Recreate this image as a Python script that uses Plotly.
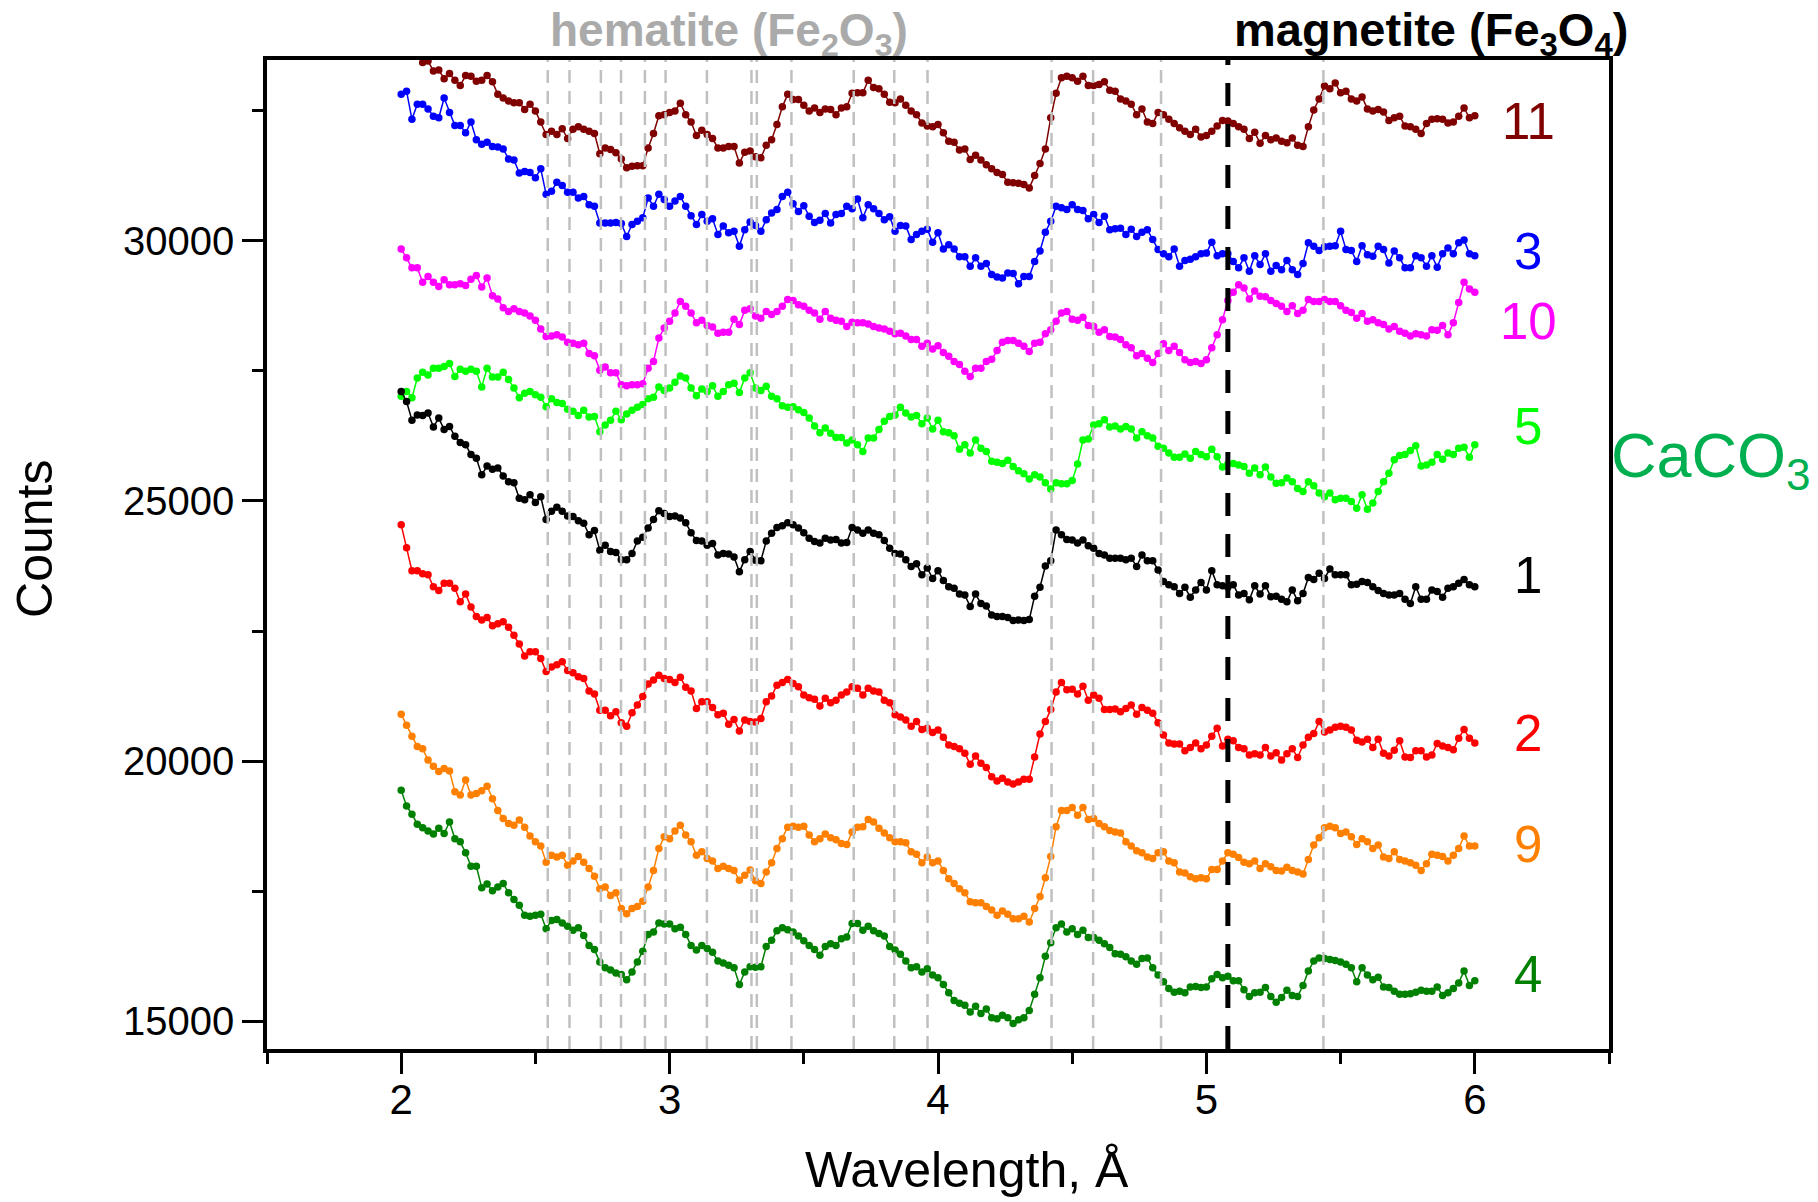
import plotly.graph_objects as go

# ---------------- data ----------------
wavelength = [round(2 + 0.02 * i, 2) for i in range(201)]

s11 = [33950, 33800, 33700, 33550, 33420, 33450, 33260, 33280, 33110, 33210,
       33080, 32980, 33170, 33160, 33060, 33080, 33170, 33050, 32810, 32740,
       32680, 32650, 32650, 32520, 32620, 32490, 32280, 32040, 32100, 32040,
       32150, 31960, 32140, 32190, 32140, 32100, 32060, 31670, 31780, 31750,
       31690, 31570, 31400, 31430, 31440, 31440, 31780, 32060, 32400, 32420,
       32460, 32490, 32640, 32420, 32280, 32020, 32120, 32040, 31960, 31780,
       31780, 31810, 31810, 31490, 31700, 31720, 31610, 31590, 31830, 31940,
       32230, 32570, 32810, 32710, 32710, 32600, 32490, 32550, 32460, 32530,
       32520, 32420, 32550, 32570, 32830, 32840, 32840, 33080, 32940, 32920,
       32810, 32660, 32650, 32720, 32600, 32490, 32420, 32260, 32200, 32190,
       32230, 32070, 31910, 31890, 31740, 31760, 31560, 31640, 31550, 31460,
       31380, 31310, 31270, 31120, 31110, 31100, 31080, 31010, 31250, 31480,
       31760, 32360, 32830, 33130, 33160, 33130, 33060, 33160, 32980, 32980,
       33000, 33050, 32890, 32870, 32720, 32680, 32620, 32420, 32530, 32280,
       32250, 32460, 32420, 32330, 32250, 32170, 32100, 32040, 32140, 31990,
       32020, 32100, 32200, 32310, 32300, 32250, 32190, 32140, 31960, 32080,
       31870, 32020, 31940, 31970, 31910, 31880, 31970, 31830, 31810, 32190,
       32510, 32720, 32970, 32920, 33030, 32840, 32870, 32720, 32680, 32760,
       32530, 32490, 32520, 32470, 32310, 32360, 32390, 32200, 32190, 32140,
       32060, 32250, 32330, 32340, 32330, 32260, 32280, 32390, 32550, 32360,
       32400]

s3 = [32810, 32870, 32330, 32620, 32620, 32530, 32390, 32360, 32740, 32460,
      32210, 32210, 32070, 32280, 31940, 31850, 31890, 31810, 31800, 31760,
      31570, 31550, 31300, 31330, 31310, 31210, 31380, 30890, 30950, 31120,
      31060, 30930, 30930, 30820, 30850, 30690, 30660, 30340, 30340, 30340,
      30350, 30330, 30080, 30310, 30370, 30440, 30820, 30660, 30890, 30790,
      30660, 30760, 30850, 30660, 30480, 30310, 30500, 30370, 30420, 30120,
      30280, 30150, 30180, 29890, 30210, 30360, 30290, 30180, 30400, 30530,
      30600, 30850, 30930, 30710, 30560, 30670, 30470, 30350, 30390, 30520,
      30340, 30500, 30520, 30660, 30610, 30800, 30440, 30690, 30610, 30520,
      30400, 30460, 30180, 30290, 30280, 30020, 30120, 30180, 30220, 29970,
      30150, 29840, 29920, 29840, 29690, 29690, 29510, 29670, 29510, 29560,
      29350, 29300, 29280, 29380, 29370, 29170, 29310, 29310, 29600, 29800,
      30160, 30370, 30660, 30630, 30600, 30690, 30600, 30580, 30420, 30500,
      30350, 30470, 30210, 30230, 30240, 30120, 30220, 30080, 30160, 30210,
      30020, 29830, 29750, 29690, 29840, 29510, 29620, 29640, 29690, 29750,
      29760, 29970, 29710, 29750, 29750, 29600, 29480, 29670, 29410, 29710,
      29540, 29750, 29410, 29520, 29440, 29620, 29440, 29350, 29560, 29960,
      29890, 29810, 29880, 29890, 29900, 30180, 29830, 29810, 29600, 29900,
      29730, 29700, 29890, 29830, 29570, 29800, 29670, 29480, 29480, 29710,
      29670, 29510, 29710, 29490, 29750, 29860, 29750, 29960, 30010, 29750,
      29710]

s10 = [29840, 29670, 29480, 29480, 29200, 29310, 29200, 29120, 29250, 29150,
       29150, 29170, 29140, 29260, 29330, 29110, 29280, 28940, 28880, 28710,
       28640, 28690, 28640, 28610, 28550, 28470, 28300, 28160, 28170, 28190,
       28150, 28050, 28030, 28000, 28030, 27830, 27790, 27510, 27570, 27460,
       27460, 27230, 27210, 27230, 27230, 27250, 27550, 27680, 28130, 28320,
       28450, 28610, 28830, 28740, 28610, 28420, 28470, 28370, 28340, 28220,
       28240, 28240, 28490, 28390, 28660, 28690, 28550, 28510, 28640, 28580,
       28640, 28740, 28870, 28850, 28770, 28740, 28660, 28610, 28490, 28640,
       28510, 28470, 28450, 28350, 28430, 28420, 28420, 28400, 28350, 28320,
       28300, 28260, 28210, 28220, 28170, 28100, 28100, 27970, 28030, 27920,
       27980, 27850, 27780, 27680, 27620, 27490, 27390, 27550, 27550, 27680,
       27720, 27890, 28050, 28080, 28080, 28030, 27970, 27870, 28030, 28050,
       28210, 28290, 28450, 28610, 28640, 28490, 28470, 28530, 28370, 28350,
       28240, 28290, 28160, 28150, 28100, 28000, 27940, 27790, 27830, 27740,
       27660, 27830, 28020, 27890, 27970, 27850, 27710, 27660, 27680, 27640,
       27710, 27940, 28190, 28480, 28850, 29010, 29150, 29090, 28880, 29030,
       28930, 28920, 28850, 28790, 28740, 28640, 28750, 28600, 28660, 28870,
       28830, 28830, 28870, 28830, 28830, 28750, 28660, 28620, 28510, 28600,
       28450, 28480, 28420, 28390, 28300, 28350, 28260, 28220, 28170, 28210,
       28190, 28170, 28290, 28280, 28370, 28190, 28420, 28810, 29200, 29070,
       29010]

s5 = [27010, 27100, 26980, 27360, 27470, 27420, 27550, 27550, 27580, 27640,
      27390, 27530, 27490, 27530, 27490, 27190, 27550, 27380, 27380, 27470,
      27330, 27170, 26980, 27070, 27100, 27040, 26990, 26810, 26960, 26890,
      26870, 26760, 26720, 26640, 26740, 26610, 26620, 26330, 26460, 26550,
      26720, 26560, 26670, 26740, 26800, 26850, 26960, 26990, 27190, 27120,
      27170, 27280, 27400, 27360, 27170, 27020, 27150, 27100, 27210, 27010,
      27100, 27230, 27260, 27080, 27360, 27460, 27170, 27120, 27200, 27010,
      26960, 26830, 26800, 26810, 26750, 26700, 26590, 26440, 26310, 26400,
      26300, 26220, 26220, 26110, 26170, 26080, 25950, 26210, 26210, 26370,
      26530, 26620, 26650, 26800, 26690, 26610, 26640, 26480, 26590, 26380,
      26550, 26330, 26310, 26250, 25990, 26080, 25920, 26170, 26010, 25950,
      25760, 25740, 25720, 25780, 25660, 25580, 25520, 25420, 25500, 25460,
      25350, 25230, 25350, 25330, 25330, 25390, 25710, 26170, 26190, 26460,
      26480, 26560, 26420, 26440, 26380, 26430, 26380, 26210, 26330, 26250,
      26210, 26050, 26010, 25920, 25840, 25840, 25900, 25820, 25950, 25890,
      25850, 25990, 25850, 25650, 25710, 25720, 25690, 25660, 25530, 25630,
      25500, 25650, 25460, 25340, 25350, 25440, 25370, 25240, 25180, 25370,
      25290, 25150, 25080, 25150, 25020, 25050, 25050, 24990, 24860, 25120,
      24840, 24960, 25180, 25370, 25530, 25790, 25870, 25890, 25970, 26060,
      25670, 25690, 25740, 25890, 25800, 25920, 25890, 26010, 26030, 25840,
      26080]

s1 = [27100, 26910, 26550, 26650, 26640, 26690, 26420, 26590, 26370, 26430,
      26240, 26120, 26080, 25890, 25820, 25500, 25670, 25610, 25630, 25480,
      25370, 25350, 25050, 25020, 25120, 24970, 25080, 24640, 24800, 24880,
      24800, 24710, 24700, 24620, 24570, 24350, 24430, 24050, 24150, 24030,
      24010, 23870, 23870, 23990, 24230, 24300, 24480, 24640, 24810, 24760,
      24700, 24710, 24670, 24580, 24390, 24240, 24230, 24150, 24180, 23960,
      23990, 23980, 23920, 23640, 23870, 24030, 23860, 23850, 24230, 24380,
      24490, 24520, 24580, 24540, 24480, 24390, 24280, 24220, 24190, 24280,
      24250, 24260, 24190, 24200, 24490, 24440, 24380, 24440, 24380, 24350,
      24240, 24090, 23990, 23980, 23870, 23740, 23790, 23580, 23710, 23510,
      23660, 23470, 23350, 23320, 23210, 23190, 22970, 23210, 23030, 22980,
      22810, 22780, 22780, 22760, 22700, 22710, 22700, 22720, 23170, 23340,
      23750, 23850, 24440, 24350, 24260, 24250, 24190, 24250, 24140, 24090,
      23990, 23960, 23900, 23900, 23900, 23870, 23900, 23740, 23960, 23850,
      23850, 23670, 23450, 23390, 23350, 23220, 23340, 23150, 23290, 23430,
      23290, 23660, 23390, 23370, 23340, 23390, 23190, 23220, 23100, 23370,
      23210, 23370, 23160, 23170, 23110, 23060, 23290, 23080, 23220, 23530,
      23490, 23610, 23510, 23690, 23580, 23580, 23580, 23390, 23400, 23450,
      23430, 23350, 23280, 23220, 23190, 23190, 23220, 23110, 23030, 23350,
      23110, 23110, 23290, 23260, 23150, 23320, 23350, 23420, 23490, 23390,
      23350]

s2 = [24540, 24100, 23660, 23660, 23600, 23580, 23350, 23280, 23420, 23420,
      23320, 23060, 23210, 22960, 22780, 22710, 22760, 22600, 22640, 22680,
      22570, 22420, 22250, 22020, 22100, 22100, 21970, 21720, 21810, 21850,
      21910, 21740, 21700, 21620, 21590, 21350, 21290, 20980, 20980, 20870,
      20950, 20740, 20670, 20930, 21080, 21240, 21480, 21560, 21650, 21590,
      21570, 21510, 21610, 21420, 21350, 21010, 21140, 21140, 21030, 20890,
      20920, 20710, 20800, 20580, 20790, 20760, 20750, 20820, 21140, 21250,
      21460, 21510, 21570, 21490, 21430, 21270, 21220, 21190, 21060, 21210,
      21120, 21170, 21270, 21330, 21430, 21400, 21270, 21400, 21350, 21330,
      21170, 21120, 20890, 20850, 20790, 20670, 20760, 20610, 20630, 20550,
      20600, 20460, 20310, 20280, 20240, 20150, 19940, 20100, 19960, 19880,
      19700, 19620, 19670, 19600, 19560, 19600, 19650, 19650, 20080, 20520,
      20760, 20990, 21330, 21510, 21370, 21380, 21290, 21440, 21170, 21270,
      21210, 20990, 20990, 21000, 20950, 21010, 21080, 20900, 21030, 20980,
      20920, 20740, 20500, 20350, 20330, 20330, 20200, 20260, 20350, 20240,
      20310, 20480, 20630, 20290, 20420, 20390, 20260, 20240, 20120, 20140,
      20120, 20260, 20100, 20160, 20020, 20140, 20240, 20070, 20310, 20460,
      20530, 20760, 20560, 20600, 20650, 20670, 20650, 20600, 20400, 20370,
      20420, 20260, 20420, 20150, 20100, 20210, 20390, 20080, 20070, 20200,
      20200, 20080, 20120, 20340, 20290, 20260, 20220, 20440, 20610, 20440,
      20350]

s9 = [20900, 20690, 20480, 20280, 20240, 20020, 19900, 19800, 19860, 19810,
      19410, 19350, 19640, 19350, 19380, 19430, 19520, 19280, 19050, 18900,
      18800, 18770, 18870, 18730, 18560, 18450, 18370, 18060, 18190, 18160,
      18190, 18000, 18080, 18170, 18060, 17940, 17790, 17550, 17580, 17420,
      17470, 17170, 17070, 17170, 17210, 17310, 17580, 17900, 18320, 18550,
      18510, 18660, 18770, 18580, 18450, 18190, 18260, 18130, 18080, 17940,
      17980, 17940, 17900, 17710, 17810, 17910, 17700, 17650, 17870, 18050,
      18320, 18510, 18730, 18750, 18730, 18750, 18580, 18450, 18510, 18600,
      18530, 18490, 18420, 18400, 18640, 18730, 18740, 18880, 18830, 18710,
      18620, 18530, 18450, 18450, 18430, 18260, 18210, 18050, 18160, 18050,
      18080, 17900, 17740, 17650, 17550, 17470, 17300, 17280, 17280, 17210,
      17140, 17040, 17120, 17060, 16970, 16970, 17020, 16910, 17170, 17400,
      17760, 18170, 18740, 19050, 19050, 19110, 18960, 19110, 18880, 18900,
      18800, 18740, 18670, 18640, 18620, 18450, 18370, 18280, 18240, 18160,
      18130, 18240, 18260, 18080, 18050, 17870, 17850, 17780, 17740, 17760,
      17740, 17920, 17920, 18080, 18240, 18210, 18150, 18060, 18030, 18080,
      17940, 18030, 17970, 17900, 17890, 17960, 17900, 17870, 17830, 18110,
      18390, 18530, 18720, 18750, 18720, 18610, 18640, 18550, 18400, 18510,
      18450, 18320, 18390, 18160, 18130, 18260, 18110, 18080, 18050, 18000,
      17900, 18030, 18210, 18190, 18170, 18080, 18190, 18320, 18560, 18370,
      18370]

s4 = [19440, 19140, 18980, 18790, 18720, 18660, 18600, 18710, 18610, 18830,
      18510, 18450, 18240, 17980, 17980, 17570, 17640, 17510, 17580, 17650,
      17470, 17340, 17230, 17040, 17020, 17040, 17060, 16780, 16940, 16960,
      16890, 16830, 16750, 16800, 16650, 16460, 16380, 16140, 16030, 15990,
      15930, 15900, 15800, 15950, 16140, 16350, 16670, 16720, 16890, 16870,
      16870, 16780, 16810, 16670, 16460, 16370, 16460, 16400, 16330, 16160,
      16120, 16080, 16030, 15710, 15950, 16050, 16040, 16050, 16440, 16560,
      16740, 16800, 16760, 16720, 16640, 16550, 16460, 16380, 16270, 16440,
      16490, 16460, 16590, 16620, 16880, 16880, 16750, 16830, 16740, 16690,
      16640, 16440, 16370, 16290, 16160, 16030, 16050, 15950, 16010, 15890,
      15840, 15710, 15550, 15400, 15350, 15310, 15180, 15290, 15150, 15240,
      15070, 15050, 15120, 15070, 14960, 15030, 15070, 15210, 15520, 15840,
      16250, 16510, 16800, 16870, 16720, 16780, 16670, 16750, 16610, 16610,
      16560, 16490, 16420, 16300, 16290, 16240, 16160, 16100, 16210, 16220,
      16030, 15890, 15760, 15630, 15560, 15580, 15550, 15660, 15670, 15650,
      15660, 15820, 15900, 15840, 15870, 15780, 15780, 15610, 15480, 15550,
      15560, 15650, 15480, 15370, 15460, 15600, 15500, 15480, 15690, 15970,
      16160, 16220, 16210, 16190, 16170, 16140, 16100, 16030, 15760, 16030,
      15890, 15800, 15850, 15660, 15650, 15580, 15520, 15520, 15530, 15560,
      15600, 15580, 15580, 15660, 15500, 15550, 15630, 15740, 15970, 15690,
      15780]

series_names = ["11", "3", "10", "5", "1", "2", "9", "4"]
series_values = [s11, s3, s10, s5, s1, s2, s9, s4]
series_colors = ["#800000", "#0000ff", "#ff00ff", "#00ff00",
                 "#000000", "#ff0000", "#ff8000", "#008000"]
label_y = [32290, 29790, 28440, 26420, 23560, 20540, 18400, 15900]
label_x = 6.2

hematite_lines = [2.546, 2.627, 2.744, 2.819, 2.908, 2.985, 3.139, 3.305, 3.325,
                  3.454, 3.686, 3.837, 3.961, 4.423, 4.578, 4.831, 5.436]
magnetite_line = 5.08

x_ticks = [2, 3, 4, 5, 6]
y_ticks = [15000, 20000, 25000, 30000]

# ---------------- figure ----------------
FONT = "Liberation Sans, Arial, sans-serif"

fig = go.Figure()
for name, vals, col in zip(series_names, series_values, series_colors):
    fig.add_trace(go.Scatter(
        x=wavelength, y=vals, mode="lines+markers", name=name,
        line=dict(color=col, width=1.5),
        marker=dict(color=col, size=7.5, symbol="circle"),
        showlegend=False,
    ))

shapes = []
for xv in hematite_lines:
    shapes.append(dict(type="line", xref="x", yref="paper", x0=xv, x1=xv, y0=0, y1=1,
                       line=dict(color="#c0c0c0", width=2.5, dash="13px,8px"), layer="above"))
shapes.append(dict(type="line", xref="x", yref="paper", x0=magnetite_line, x1=magnetite_line,
                   y0=0, y1=1, line=dict(color="black", width=5, dash="23px,18px"), layer="above"))

annotations = []
for name, ly, col in zip(series_names, label_y, series_colors):
    annotations.append(dict(x=label_x, y=ly, xref="x", yref="y", text=name, showarrow=False,
                            xanchor="center", yanchor="middle",
                            font=dict(family=FONT, size=51, color=col)))
annotations += [
    dict(x=0.3443, y=1.0273, xref="paper", yref="paper", showarrow=False,
         text="<b>hematite (Fe<sub>2</sub>O<sub>3</sub>)</b>", xanchor="center", yanchor="middle",
         font=dict(family=FONT, size=46, color="#aaaaaa")),
    dict(x=0.8674, y=1.0273, xref="paper", yref="paper", showarrow=False,
         text="<b>magnetite (Fe<sub>3</sub>O<sub>4</sub>)</b>", xanchor="center", yanchor="middle",
         font=dict(family=FONT, size=47, color="black")),
    dict(x=1.076, y=0.5956, xref="paper", yref="paper", showarrow=False,
         text="CaCO<sub>3</sub>", xanchor="center", yanchor="middle",
         font=dict(family=FONT, size=63, color="#00b050")),
    dict(x=-0.1729, y=0.5157, xref="paper", yref="paper", showarrow=False,
         text="Counts", textangle=-90, xanchor="center", yanchor="middle",
         font=dict(family=FONT, size=50, color="black")),
    dict(x=0.5216, y=-0.122, xref="paper", yref="paper", showarrow=False,
         text="Wavelength, Å", xanchor="center", yanchor="middle",
         font=dict(family=FONT, size=50, color="black")),
]

axis_common = dict(showline=True, linewidth=3.5, linecolor="black", mirror=True,
                   showgrid=False, zeroline=False, ticks="outside", ticklen=21,
                   tickwidth=3, tickcolor="black")

fig.update_layout(
    width=1818, height=1202,
    margin=dict(l=267, r=209, t=60, b=153, autoexpand=False),
    paper_bgcolor="white", plot_bgcolor="white",
    shapes=shapes, annotations=annotations,
    xaxis=dict(range=[1.5, 6.5], tickmode="array", tickvals=x_ticks,
               ticktext=[str(v) for v in x_ticks],
               tickfont=dict(family=FONT, size=42, color="black"),
               ticklabelstandoff=-10,
               minor=dict(tickmode="linear", tick0=1.5, dtick=0.5, ticks="outside",
                          ticklen=11, tickwidth=3, tickcolor="black"),
               **axis_common),
    yaxis=dict(range=[14470, 33470], tickmode="array", tickvals=y_ticks,
               ticktext=[str(v) for v in y_ticks],
               tickfont=dict(family=FONT, size=40, color="black"),
               minor=dict(tickmode="linear", tick0=12500, dtick=2500, ticks="outside",
                          ticklen=11, tickwidth=3, tickcolor="black"),
               **axis_common),
)

fig.write_html("out.html")
